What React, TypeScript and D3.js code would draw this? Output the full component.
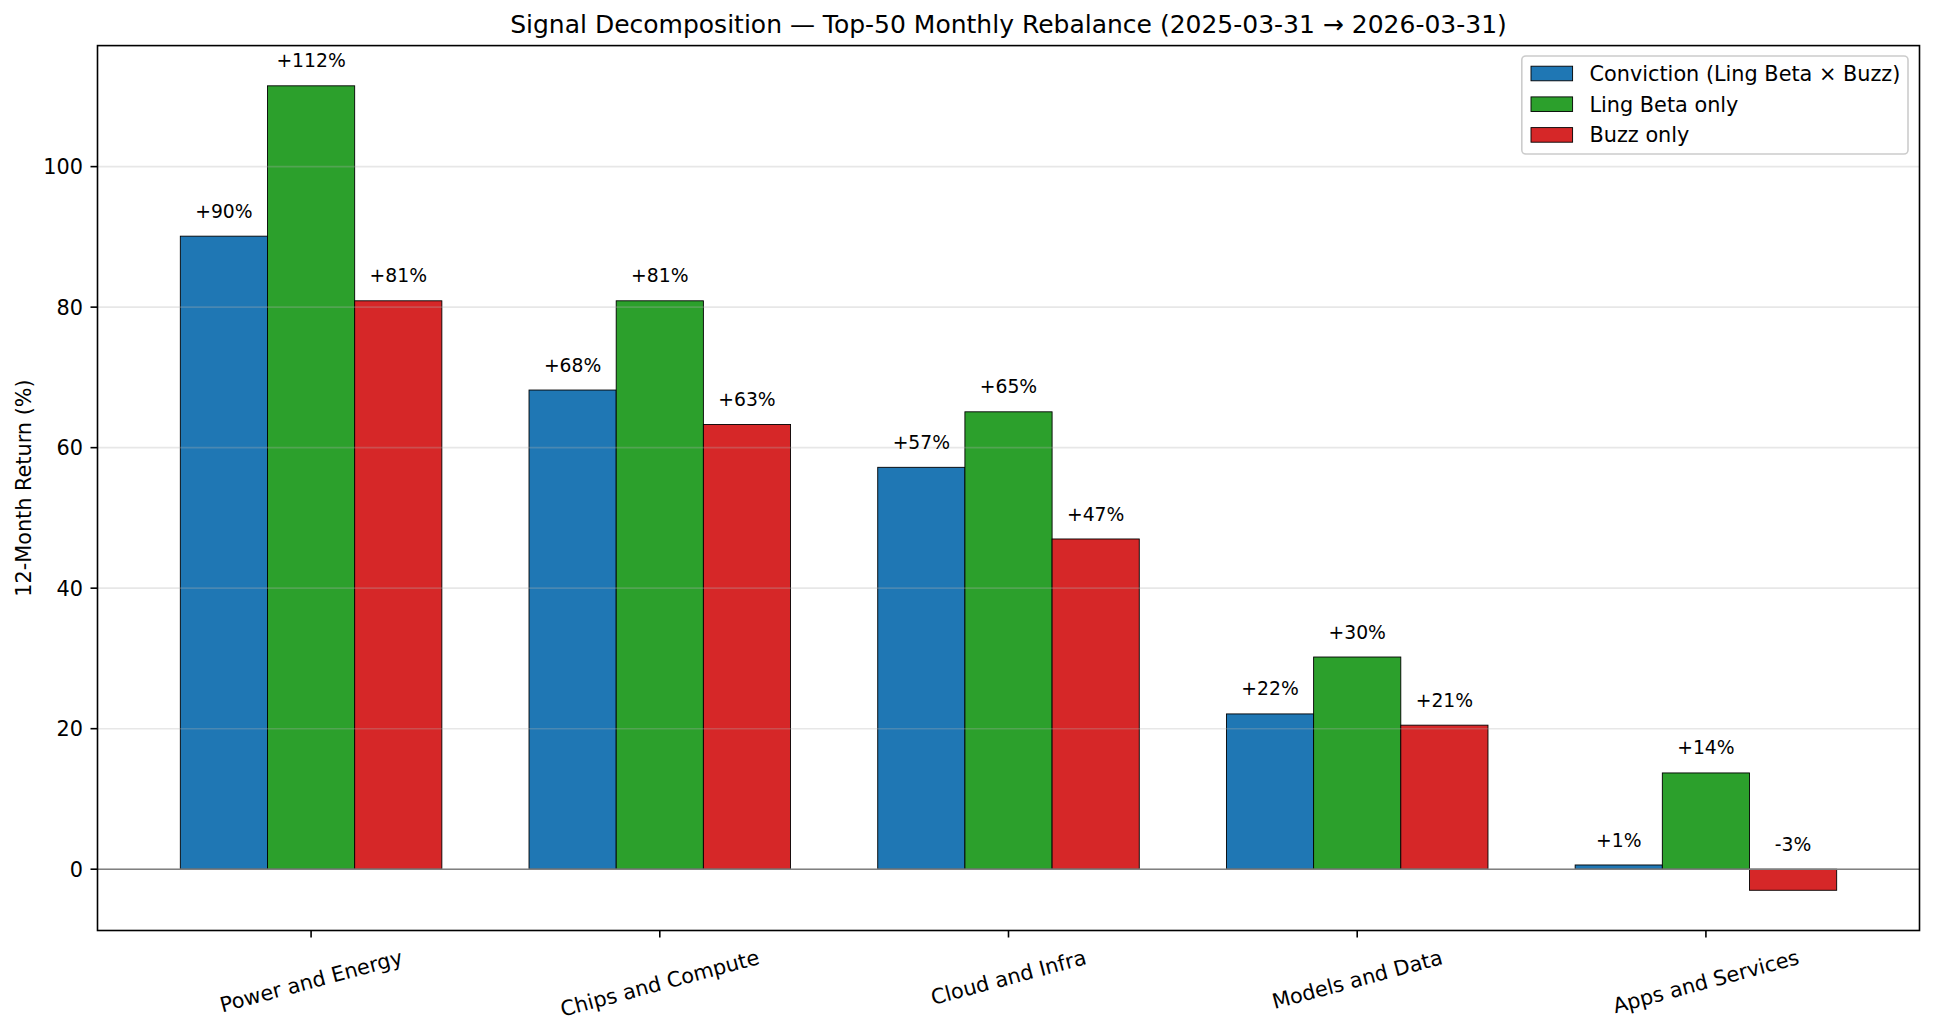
import { useEffect, useRef } from 'react'
import * as d3 from 'd3'

const categories = ['Power and Energy', 'Chips and Compute', 'Cloud and Infra', 'Models and Data', 'Apps and Services']
const seriesNames = ['Conviction (Ling Beta × Buzz)', 'Ling Beta only', 'Buzz only']
const seriesColors = ['#1f77b4', '#2ca02c', '#d62728']
const convictionValues = [90.1, 68.2, 57.2, 22.1, 0.6]
const lingBetaValues = [111.5, 80.9, 65.1, 30.2, 13.7]
const buzzValues = [80.9, 63.3, 47.0, 20.5, -3.0]
const yTicks = [0, 20, 40, 60, 80, 100]

const W = 1933, H = 1033
const FONT = 'DejaVu Sans, sans-serif'

// matplotlib-style "+.0f" with a plain hyphen for negatives
const pct = (v: number) => (v >= 0 ? '+' : '-') + Math.round(Math.abs(v)) + '%'

export default function App() {
  const svgRef = useRef<SVGSVGElement>(null)

  useEffect(() => {
    document.body.style.margin = '0'
    if (!svgRef.current) return
    const svg = d3.select(svgRef.current)
    svg.selectAll('*').remove()

    const box = { left: 97.5, right: 1919.5, top: 45.6, bottom: 930.5 }
    const series = [convictionValues, lingBetaValues, buzzValues]
    const barW = 0.25

    const all = series.flat().concat([0])
    const lo = d3.min(all)!, hi = d3.max(all)!
    const pad = (hi - lo) * 0.05
    const y = d3.scaleLinear().domain([lo - pad, hi + pad]).range([box.bottom, box.top])
    const xLo = -1.5 * barW, xHi = categories.length - 1 + 1.5 * barW
    const xPad = (xHi - xLo) * 0.05
    const x = d3.scaleLinear().domain([xLo - xPad, xHi + xPad]).range([box.left, box.right])

    svg.append('rect').attr('width', W).attr('height', H).attr('fill', '#fff')

    // bars
    series.forEach((vals, s) => {
      svg.append('g').selectAll('rect').data(vals).join('rect')
        .attr('x', (_, i) => x(i + (s - 1) * barW - barW / 2))
        .attr('width', x(barW) - x(0))
        .attr('y', d => y(Math.max(d, 0)))
        .attr('height', d => Math.abs(y(d) - y(0)))
        .attr('fill', seriesColors[s])
        .attr('stroke', '#000').attr('stroke-width', 0.9)
    })

    // grid (drawn above bars, translucent)
    svg.append('g').selectAll('line').data(yTicks).join('line')
      .attr('x1', box.left).attr('x2', box.right)
      .attr('y1', d => y(d)).attr('y2', d => y(d))
      .attr('stroke', '#b0b0b0').attr('stroke-opacity', 0.3).attr('stroke-width', 1.6)

    // zero line
    svg.append('line')
      .attr('x1', box.left).attr('x2', box.right)
      .attr('y1', y(0)).attr('y2', y(0))
      .attr('stroke', '#808080').attr('stroke-width', 1.6)

    // value labels
    series.forEach((vals, s) => {
      svg.append('g').selectAll('text').data(vals).join('text')
        .attr('x', (_, i) => x(i + (s - 1) * barW))
        .attr('y', d => y(Math.max(d, 0) + 2) - 4.4)
        .attr('text-anchor', 'middle')
        .attr('font-family', FONT).attr('font-size', 18.75).attr('fill', '#000')
        .text(d => pct(d))
    })

    // spines
    svg.append('rect')
      .attr('x', box.left).attr('y', box.top)
      .attr('width', box.right - box.left).attr('height', box.bottom - box.top)
      .attr('fill', 'none').attr('stroke', '#000').attr('stroke-width', 1.6)

    // y axis
    const yAxis = svg.append('g')
    yAxis.selectAll('line').data(yTicks).join('line')
      .attr('x1', box.left - 7).attr('x2', box.left)
      .attr('y1', d => y(d)).attr('y2', d => y(d))
      .attr('stroke', '#000').attr('stroke-width', 1.6)
    yAxis.selectAll('text').data(yTicks).join('text')
      .attr('x', box.left - 14.5).attr('y', d => y(d) + 7.5)
      .attr('text-anchor', 'end')
      .attr('font-family', FONT).attr('font-size', 20.8).attr('fill', '#000')
      .text(d => String(d))

    // x axis
    const xAxis = svg.append('g')
    xAxis.selectAll('line').data(categories).join('line')
      .attr('x1', (_, i) => x(i)).attr('x2', (_, i) => x(i))
      .attr('y1', box.bottom).attr('y2', box.bottom + 7)
      .attr('stroke', '#000').attr('stroke-width', 1.6)
    const rot = 15 * Math.PI / 180
    const fs = 20.8
    const hText = fs * 1.164
    categories.forEach((c, i) => {
      const g = xAxis.append('g')
      const t = g.append('text')
        .attr('text-anchor', 'middle')
        .attr('font-family', FONT).attr('font-size', fs).attr('fill', '#000')
        .attr('y', fs * 0.346)
        .text(c)
      const w = (t.node() as SVGTextElement).getComputedTextLength()
      const bh = w * Math.sin(rot) + hText * Math.cos(rot)
      const cy = box.bottom + 7.3 + 7.3 + bh / 2
      g.attr('transform', `translate(${x(i)},${cy}) rotate(-15)`)
    })

    // y label
    svg.append('text')
      .attr('transform', `translate(31,${(box.top + box.bottom) / 2}) rotate(-90)`)
      .attr('text-anchor', 'middle')
      .attr('font-family', FONT).attr('font-size', 20.8).attr('fill', '#000')
      .text('12-Month Return (%)')

    // title
    svg.append('text')
      .attr('x', (box.left + box.right) / 2).attr('y', 33)
      .attr('text-anchor', 'middle')
      .attr('font-family', FONT).attr('font-size', 25).attr('fill', '#000')
      .text('Signal Decomposition — Top-50 Monthly Rebalance (2025-03-31 → 2026-03-31)')

    // legend
    const lg = svg.append('g')
    lg.append('rect')
      .attr('x', 1521.8).attr('y', 56).attr('width', 386.2).attr('height', 98)
      .attr('rx', 4).attr('fill', '#fff').attr('fill-opacity', 0.8)
      .attr('stroke', '#cccccc').attr('stroke-width', 1.6)
    seriesNames.forEach((name, s) => {
      const cy = 73.5 + s * 30.7
      lg.append('rect')
        .attr('x', 1531).attr('y', cy - 7.3).attr('width', 41.6).attr('height', 14.6)
        .attr('fill', seriesColors[s]).attr('stroke', '#000').attr('stroke-width', 0.9)
      lg.append('text')
        .attr('x', 1589.5).attr('y', cy + 7.5)
        .attr('font-family', FONT).attr('font-size', 20.8).attr('fill', '#000')
        .text(name)
    })
  }, [])

  return <svg ref={svgRef} width={W} height={H} style={{ display: 'block' }} />
}
